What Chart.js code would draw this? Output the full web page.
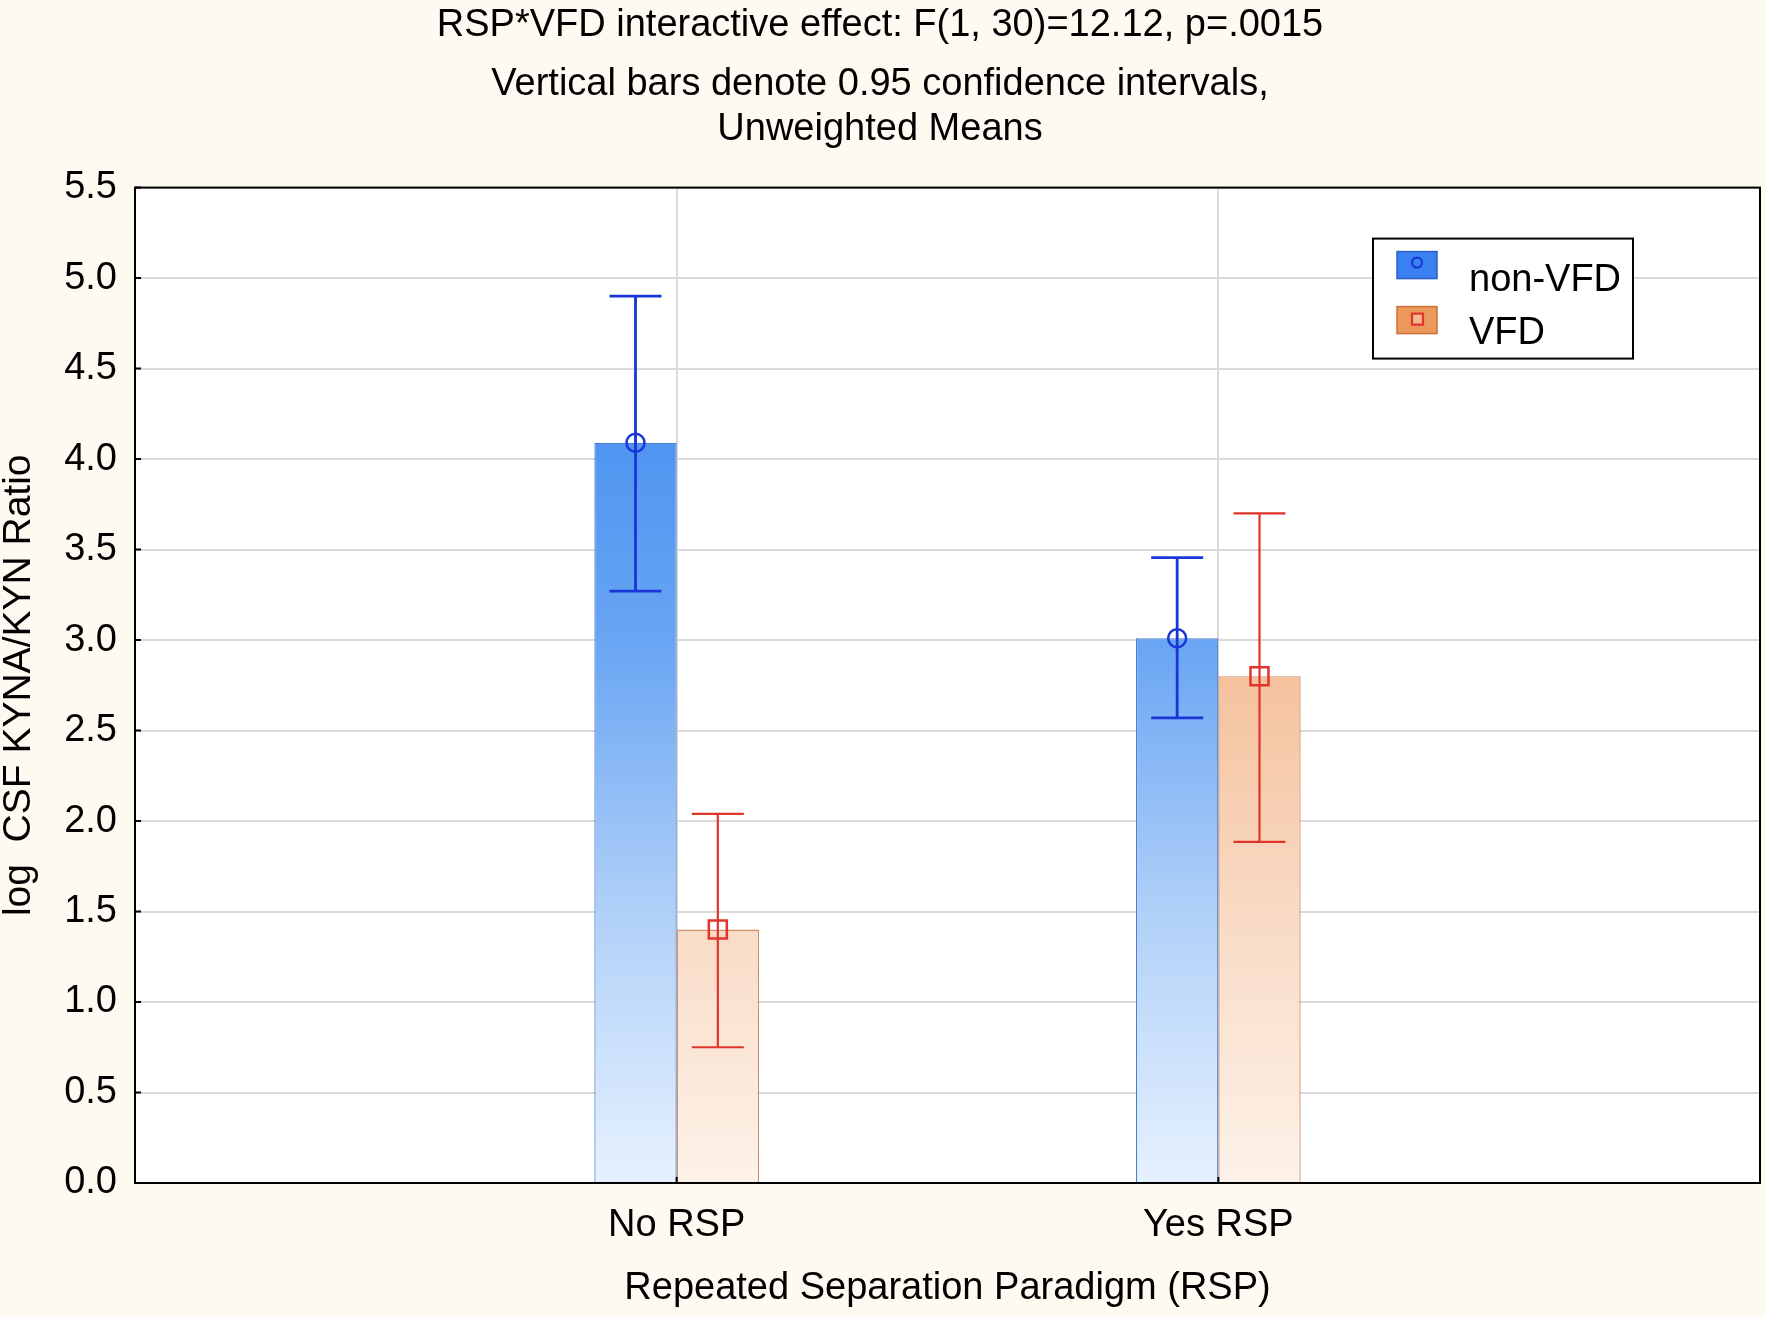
<!DOCTYPE html>
<html>
<head>
<meta charset="utf-8">
<script src="https://cdn.jsdelivr.net/npm/chart.js@4.4.1/dist/chart.umd.min.js"></script>
<style>
    html, body { margin: 0; padding: 0; background: #fefaf1; }
    #wrap { width: 1766px; height: 1317px; }
</style>
</head>
<body>
<div id="wrap"><canvas id="chart"></canvas></div>
<script>
// values
var categories = ["No RSP", "Yes RSP"];
var nonVfdMean = [4.09, 3.01];
var nonVfdLow = [3.27, 2.57];
var nonVfdHigh = [4.90, 3.455];
var vfdMean = [1.40, 2.80];
var vfdLow = [0.75, 1.885];
var vfdHigh = [2.04, 3.70];
var yTicks = [0, 0.5, 1, 1.5, 2, 2.5, 3, 3.5, 4, 4.5, 5, 5.5];

var FONT = "'Liberation Sans', Arial, sans-serif";

// empty slots at both ends put the two groups at 1/3 and 2/3 of the width
function padded(arr) {
    return [null].concat(arr, [null]);
}

function axisGradient(chart, stops) {
    var area = chart.chartArea;
    if (!area) return stops[0][1];
    var y = chart.scales.y;
    var y0 = y.getPixelForValue(0), y1 = y.getPixelForValue(5.5);
    var g = chart.ctx.createLinearGradient(0, y0, 0, y1);
    stops.forEach(function(s) { g.addColorStop(s[0] / 5.5, s[1]); });
    return g;
}

var blueStops = [[0, "#e6f1fe"], [1.5, "#b0d0f8"], [3.0, "#68a5f3"], [4.1, "#4f95f1"], [5.5, "#3f88ef"]];
var orangeStops = [[0, "#fdf2e9"], [1.4, "#f9dcc7"], [2.8, "#f5c29d"], [5.5, "#ee9f62"]];

var plotBackground = {
    id: "plotBackground",
    beforeDraw: function(chart) {
        var a = chart.chartArea, ctx = chart.ctx;
        ctx.save();
        ctx.fillStyle = "#ffffff";
        ctx.fillRect(a.left, a.top, a.right - a.left, a.bottom - a.top);
        ctx.restore();
    }
};

var errorBars = {
    id: "errorBars",
    afterDatasetsDraw: function(chart) {
        var ctx = chart.ctx, y = chart.scales.y;
        chart.data.datasets.forEach(function(ds, di) {
            var meta = chart.getDatasetMeta(di);
            meta.data.forEach(function(bar, i) {
                if (ds.data[i] == null) return;
                var x = bar.x;
                var yl = y.getPixelForValue(ds.errLow[i]);
                var yh = y.getPixelForValue(ds.errHigh[i]);
                var ym = y.getPixelForValue(ds.data[i]);
                ctx.save();
                ctx.strokeStyle = ds.errColor;
                ctx.lineWidth = ds.errWidth;
                ctx.beginPath();
                ctx.moveTo(x, yh); ctx.lineTo(x, yl);
                ctx.moveTo(x - 26, yh); ctx.lineTo(x + 26, yh);
                ctx.moveTo(x - 26, yl); ctx.lineTo(x + 26, yl);
                ctx.stroke();
                ctx.lineWidth = 2.5;
                ctx.beginPath();
                if (ds.marker === "circle") {
                    ctx.arc(x, ym, 9, 0, Math.PI * 2);
                } else {
                    ctx.rect(x - 9, ym - 9, 18, 18);
                }
                ctx.stroke();
                ctx.restore();
            });
        });
    }
};

var frameAndLegend = {
    id: "frameAndLegend",
    afterDraw: function(chart) {
        var a = chart.chartArea, ctx = chart.ctx, y = chart.scales.y, xs = chart.scales.x;
        ctx.save();
        // inner tick marks
        ctx.strokeStyle = "#000000";
        ctx.lineWidth = 2;
        ctx.beginPath();
        yTicks.forEach(function(v) {
            var py = y.getPixelForValue(v);
            ctx.moveTo(a.left, py); ctx.lineTo(a.left + 6, py);
        });
        categories.forEach(function(c, i) {
            var px = xs.getPixelForValue(i + 1);
            ctx.moveTo(px, a.bottom); ctx.lineTo(px, a.bottom - 6);
        });
        ctx.stroke();
        // frame
        ctx.strokeRect(a.left, a.top, a.right - a.left, a.bottom - a.top);

        // legend box
        var lx = a.right - 387, ly = a.top + 51, lw = 260, lh = 120;
        ctx.fillStyle = "#ffffff";
        ctx.fillRect(lx, ly, lw, lh);
        ctx.lineWidth = 2;
        ctx.strokeStyle = "#000000";
        ctx.strokeRect(lx, ly, lw, lh);

        var items = [
            { label: "non-VFD", fill: "#3b80f0", border: "#2a60c8", mark: "#1a36d8", marker: "circle" },
            { label: "VFD", fill: "#ec9a5c", border: "#c9713c", mark: "#e0352a", marker: "square" }
        ];
        items.forEach(function(it, i) {
            var sy = ly + 13 + i * 55;
            ctx.fillStyle = it.fill;
            ctx.fillRect(lx + 24, sy, 40, 27);
            ctx.lineWidth = 1.5;
            ctx.strokeStyle = it.border;
            ctx.strokeRect(lx + 24, sy, 40, 27);
            var cx = lx + 44, cy = sy + 11;
            ctx.strokeStyle = it.mark;
            ctx.lineWidth = 2.2;
            ctx.beginPath();
            if (it.marker === "circle") {
                ctx.arc(cx, cy, 5, 0, Math.PI * 2);
            } else {
                ctx.fillStyle = "#f4b98e";
                ctx.fillRect(cx - 5, cy - 4, 11, 11);
                ctx.rect(cx - 5, cy - 4, 11, 11);
            }
            ctx.stroke();
            ctx.fillStyle = "#000000";
            ctx.font = "38px " + FONT;
            ctx.textBaseline = "alphabetic";
            ctx.textAlign = "left";
            ctx.fillText(it.label, lx + 96, ly + 52 + i * 53);
        });
        ctx.restore();
    }
};

var ctx = document.querySelector("#chart").getContext("2d");

var barChart = new Chart(ctx, {
    type: "bar",
    data: {
        labels: [""].concat(categories, [""]),
        datasets: [
            {
                label: "non-VFD",
                data: padded(nonVfdMean),
                errLow: padded(nonVfdLow),
                errHigh: padded(nonVfdHigh),
                errColor: "#1a36d8",
                errWidth: 2.8,
                marker: "circle",
                backgroundColor: function(c) { return axisGradient(c.chart, blueStops); },
                borderColor: "#4a7ed0",
                borderWidth: 1.2,
                barPercentage: 1.0,
                categoryPercentage: 0.304
            },
            {
                label: "VFD",
                data: padded(vfdMean),
                errLow: padded(vfdLow),
                errHigh: padded(vfdHigh),
                errColor: "#e0352a",
                errWidth: 2.2,
                marker: "square",
                backgroundColor: function(c) { return axisGradient(c.chart, orangeStops); },
                borderColor: "#cf8f68",
                borderWidth: 1.3,
                barPercentage: 1.0,
                categoryPercentage: 0.304
            }
        ]
    },
    options: {
        responsive: true,
        maintainAspectRatio: false,
        devicePixelRatio: 1,
        animation: false,
        layout: { padding: { left: 0, right: 6, top: 0, bottom: 0 } },
        plugins: {
            legend: { display: false },
            tooltip: { enabled: false },
            title: {
                display: true,
                text: "RSP*VFD interactive effect: F(1, 30)=12.12, p=.0015",
                color: "#000000",
                font: { family: FONT, size: 38, weight: "normal", lineHeight: 1.2 },
                padding: { top: 3, bottom: 0 }
            },
            subtitle: {
                display: true,
                text: ["Vertical bars denote 0.95 confidence intervals,", "Unweighted Means"],
                color: "#000000",
                font: { family: FONT, size: 38, weight: "normal", lineHeight: 1.184 },
                padding: { top: 13, bottom: 36 }
            }
        },
        scales: {
            x: {
                offset: false,
                grid: { color: "#d9d9d9", lineWidth: 2, drawTicks: false, offset: false },
                border: { display: false },
                ticks: {
                    color: "#000000",
                    font: { family: FONT, size: 38 },
                    padding: 20,
                    maxRotation: 0,
                    autoSkip: false
                },
                title: {
                    display: true,
                    text: "Repeated Separation Paradigm (RSP)",
                    color: "#000000",
                    font: { family: FONT, size: 38 },
                    padding: { top: 0, bottom: 6 }
                },
                afterFit: function(scale) {
                    scale.height = 134;
                    scale.paddingLeft = 0;
                    scale.paddingRight = 0;
                }
            },
            y: {
                min: 0,
                max: 5.5,
                afterBuildTicks: function(scale) {
                    scale.ticks = yTicks.map(function(v) { return { value: v }; });
                },
                grid: { color: "#d9d9d9", lineWidth: 2, drawTicks: false },
                border: { display: false },
                ticks: {
                    color: "#000000",
                    font: { family: FONT, size: 38 },
                    padding: 18,
                    callback: function(v) { return Number(v).toFixed(1); }
                },
                title: {
                    display: true,
                    text: "log  CSF KYNA/KYN Ratio",
                    color: "#000000",
                    font: { family: FONT, size: 39, lineHeight: 1.0 },
                    padding: { top: 0, bottom: 0 }
                },
                afterFit: function(scale) { scale.width = 135; }
            }
        }
    },
    plugins: [plotBackground, errorBars, frameAndLegend]
});
</script>
</body>
</html>
